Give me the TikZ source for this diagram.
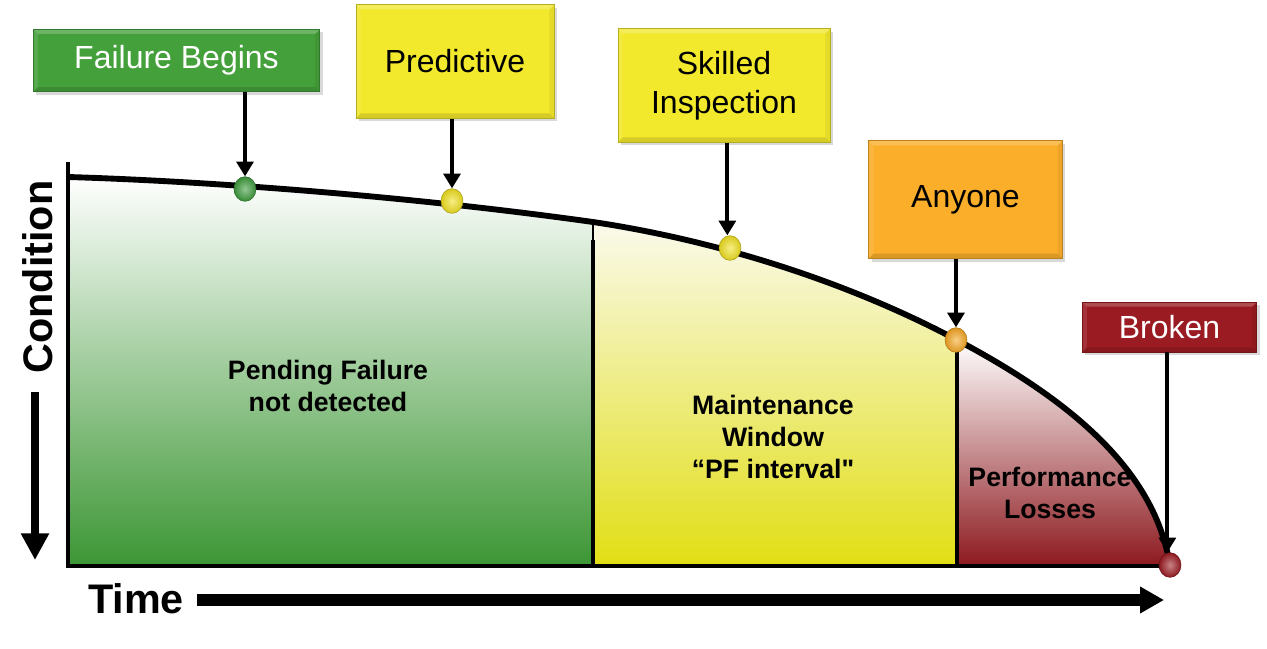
\documentclass[tikz,border=0pt]{standalone}
\usepackage{fontspec}
\newfontfamily\arialfont{Liberation Sans}
\usetikzlibrary{arrows.meta,shapes.geometric,shadows}
\definecolor{boxgreen}{RGB}{68,160,58}
\definecolor{boxyellow}{RGB}{242,232,44}
\definecolor{boxorange}{RGB}{251,174,42}
\definecolor{boxred}{RGB}{154,27,34}
\definecolor{dotgreen}{RGB}{60,154,60}
\definecolor{dotyellow}{RGB}{240,224,32}
\definecolor{dotorange}{RGB}{245,166,35}
\definecolor{dotred}{RGB}{155,28,34}
\definecolor{regreen}{RGB}{60,150,52}
\definecolor{reyellowtop}{RGB}{250,250,236}
\definecolor{reyellow}{RGB}{225,222,20}
\definecolor{rered}{RGB}{140,25,30}
\begin{document}
\begin{tikzpicture}[x=0.75pt,y=-0.75pt,
  lbl/.style={rectangle, draw=#1!75!black, line width=0.6pt, fill=#1,
    drop shadow={shadow xshift=2pt, shadow yshift=-2.5pt, opacity=0.3},
    font=\arialfont\fontsize{24}{29}\selectfont, align=center, inner sep=0pt,
    path picture={
      \fill[white,opacity=0.22] (path picture bounding box.north west) -- (path picture bounding box.north east)
        -- ([xshift=-3.5pt,yshift=-3.5pt]path picture bounding box.north east) -- ([xshift=3.5pt,yshift=-3.5pt]path picture bounding box.north west) -- cycle;
      \fill[black,opacity=0.12] (path picture bounding box.south west) -- (path picture bounding box.south east)
        -- ([xshift=-3.5pt,yshift=3.5pt]path picture bounding box.south east) -- ([xshift=3.5pt,yshift=3.5pt]path picture bounding box.south west) -- cycle;
      \fill[black,opacity=0.06] (path picture bounding box.north east) -- (path picture bounding box.south east)
        -- ([xshift=-3.5pt,yshift=3.5pt]path picture bounding box.south east) -- ([xshift=-3.5pt,yshift=-3.5pt]path picture bounding box.north east) -- cycle;
      \fill[white,opacity=0.1] (path picture bounding box.north west) -- (path picture bounding box.south west)
        -- ([xshift=3.5pt,yshift=3.5pt]path picture bounding box.south west) -- ([xshift=3.5pt,yshift=-3.5pt]path picture bounding box.north west) -- cycle;
    }},
  dotnode/.style={ellipse, minimum width=16.5pt, minimum height=18.5pt, inner sep=0pt,
    inner color=#1!55!white, outer color=#1!90!black, draw=#1!70!black, line width=0.4pt},
  pointer/.style={line width=3pt, -{Triangle[length=11pt,width=12.5pt]}},
  reglbl/.style={font=\arialfont\fontsize{20}{24}\selectfont\bfseries, align=center, inner sep=0pt},
  axisline/.style={line width=3pt}
]
\useasboundingbox (0,0) rectangle (1267,649);

% regions under curve
\begin{scope}
\clip (68,566) -- (68,177) .. controls (200,181) and (400,195) .. (593,222)
  .. controls (720,241) and (850,283) .. (957,340)
  .. controls (1070,400) and (1155,470) .. (1170,566) -- cycle;
\shade[top color=white, bottom color=regreen] (68,177) rectangle (593,566);
\shade[top color=reyellowtop, bottom color=reyellow] (593,222) rectangle (957,566);
\shade[top color=white, bottom color=rered] (957,340) rectangle (1175,566);
\end{scope}

% curve
\draw[line width=4.4pt] (68,177) .. controls (200,181) and (400,195) .. (593,222)
  .. controls (720,241) and (850,283) .. (957,340)
  .. controls (1070,400) and (1155,470) .. (1170,566);

% dividers
\coordinate (v1t) at (593,222);
\coordinate (v1m) at (593,240);
\coordinate (v1b) at (593,566);
\coordinate (v2t) at (957,340);
\coordinate (v2b) at (957,566);
\draw[line width=1pt] (v1t) -- (v1m);
\draw[axisline] (v1m) -- (v1b);
\draw[axisline] (v2t) -- (v2b);

% axes
\coordinate (ax0) at (68,164);
\coordinate (ax1) at (68,566);
\coordinate (ax2) at (1170,566);
\draw[axisline, line cap=rect] (ax0) -- (ax1) -- (ax2);

% region labels
\node[reglbl] (pf) at (328,386) {Pending Failure\\not detected};
\node[reglbl] (mw) at (773,437) {Maintenance\\Window\\“PF interval"};
\node[reglbl] (pl) at (1050,493) {Performance\\Losses};

% boxes
\node[lbl=boxgreen, minimum width=215pt, minimum height=47pt, text=white] (fb) at (176.5,60.5) {Failure Begins};
\node[lbl=boxyellow, minimum width=148.5pt, minimum height=85pt] (pr) at (455,61.5) {Predictive};
\node[lbl=boxyellow, minimum width=159pt, minimum height=85pt] (si) at (724,85.5) {Skilled\\Inspection};
\node[lbl=boxorange, minimum width=145pt, minimum height=88pt] (an) at (965.5,199.5) {Anyone};
\node[lbl=boxred, minimum width=131pt, minimum height=37.5pt, text=white] (br) at (1169.5,327) {Broken};

% dots
\node[dotnode=dotgreen] (d1) at (245,189) {};
\node[dotnode=dotyellow] (d2) at (452,201) {};
\node[dotnode=dotyellow] (d3) at (730,248) {};
\node[dotnode=dotorange] (d4) at (956,340) {};
\node[dotnode=dotred] (d5) at (1170,565) {};

% pointers
\draw[pointer] (d1 |- fb.south) -- (d1.north);
\draw[pointer] (d2 |- pr.south) -- (d2.north);
\draw[pointer] ([xshift=-2pt]d3 |- si.south) -- ([xshift=-2pt]d3.north);
\draw[pointer] (d4 |- an.south) -- (d4.north);
\draw[pointer] ([xshift=-2pt]d5 |- br.south) -- ([xshift=-2pt]d5.north);

% axis captions
\node[rotate=90, font=\arialfont\fontsize{31}{31}\selectfont\bfseries, inner sep=0pt] (cond) at (38,277) {Condition};
\coordinate (ca1) at (35,392);
\coordinate (ca2) at (35,560);
\draw[line width=6pt, -{Triangle[length=20pt,width=20pt]}] (ca1) -- (ca2);

\node[font=\arialfont\fontsize{31}{31}\selectfont\bfseries, inner sep=0pt] (time) at (136,599) {Time};
\coordinate (ta1) at (197,600);
\coordinate (ta2) at (1164,600);
\draw[line width=9pt, -{Triangle[length=18pt,width=19pt]}] (ta1) -- (ta2);
\end{tikzpicture}
\end{document}
